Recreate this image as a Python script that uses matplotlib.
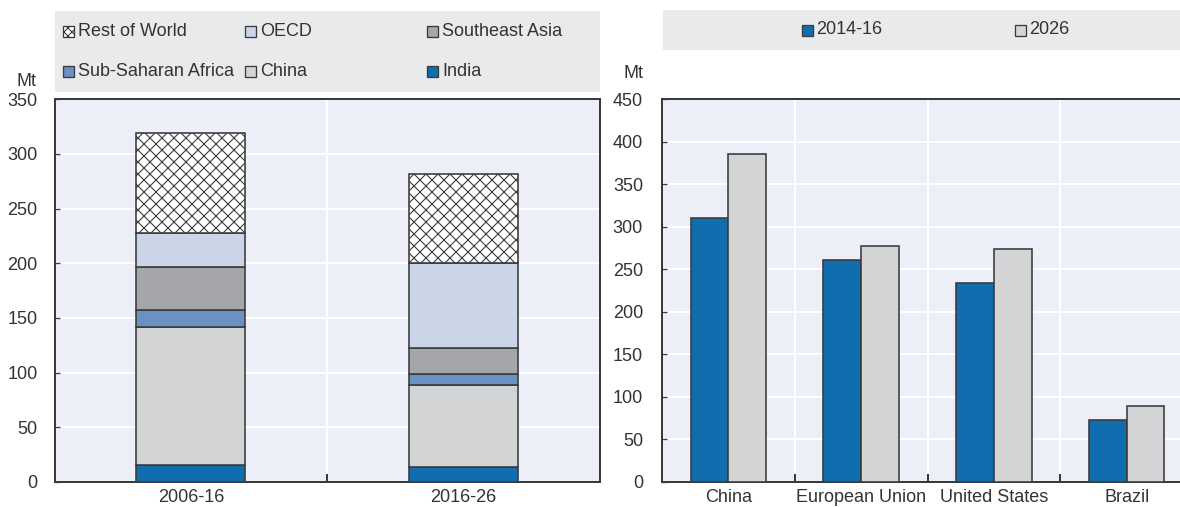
import numpy as np
import matplotlib
matplotlib.use("Agg")
import matplotlib.pyplot as plt
from matplotlib.patches import Rectangle

# higher dpi so that the crosshatch cell gets close to the reference's ~12 px
DPI = 144

def pt(px):
    # pixel size -> points at this dpi
    return px * 72 / DPI

plt.rcParams['font.family'] = ['Liberation Sans Narrow', 'Liberation Sans', 'DejaVu Sans']
plt.rcParams['hatch.color'] = '#7a7a7a'
plt.rcParams['hatch.linewidth'] = pt(1.1)

# left panel: stacked contributions (Mt)
periods = ['2006-16', '2016-26']
regions = ['India', 'China', 'Sub-Saharan Africa', 'Southeast Asia', 'OECD', 'Rest of World']
india = [16, 14]
china = [126, 75]
ssa = [15, 10]
sea = [40, 24]
oecd = [31, 77]
rest = [91, 82]

# right panel: totals by country (Mt)
countries = ['China', 'European Union', 'United States', 'Brazil']
val_1416 = [311, 261, 234, 73]
val_2026 = [386, 277, 274, 89]

W, H = 1180, 507
blue = '#116eae'
lgray = '#d3d4d6'
mblue = '#6a90c4'
dgray = '#a5a6a9'
pblue = '#cad5e8'
bg = '#eceff8'
legbg = '#e9eaec'
edge = '#3a3a3a'
txt = '#333333'
fs = pt(18)

fig = plt.figure(figsize=(W / DPI, H / DPI), dpi=DPI)

def fx(px):
    return px / W

def fy(py):
    return 1 - py / H

# ---------- left panel ----------
ax1 = fig.add_axes([fx(54.5), fy(482), fx(600 - 54.5), (482 - 99.3) / H])
ax1.set_facecolor(bg)
x = np.arange(len(periods))
series = [india, china, ssa, sea, oecd, rest]
colors = [blue, lgray, mblue, dgray, pblue, 'white']
bottom = np.zeros(len(periods))
for vals, c, name in zip(series, colors, regions):
    ax1.bar(x, vals, 0.4, bottom=bottom, color=c, edgecolor=edge, linewidth=pt(1.6),
            hatch='xxxx' if name == 'Rest of World' else None, zorder=3)
    bottom += np.array(vals)
ax1.set_xlim(-0.5, 1.5)
ax1.set_ylim(0, 350)
ax1.set_yticks(range(0, 351, 50))
ax1.set_xticks(x)
ax1.set_xticklabels(periods)
ax1.set_xticks([0.5], minor=True)
ax1.grid(axis='y', color='white', linewidth=pt(2), zorder=0)
ax1.axvline(0.5, color='white', linewidth=pt(2), zorder=0)

# ---------- right panel ----------
ax2 = fig.add_axes([fx(662), fy(482), fx(1193 - 662), (482 - 99.3) / H])
ax2.set_facecolor(bg)
xc = np.arange(len(countries))
bw = 0.285
ax2.bar(xc - bw / 2, val_1416, bw, color=blue, edgecolor=edge, linewidth=pt(1.6), zorder=3)
ax2.bar(xc + bw / 2, val_2026, bw, color=lgray, edgecolor=edge, linewidth=pt(1.6), zorder=3)
ax2.set_xlim(-0.5, 3.5)
ax2.set_ylim(0, 450)
ax2.set_yticks(range(0, 451, 50))
ax2.set_xticks(xc)
ax2.set_xticklabels(countries)
ax2.set_xticks([0.5, 1.5, 2.5], minor=True)
ax2.grid(axis='y', color='white', linewidth=pt(2), zorder=0)
for b in [0.5, 1.5, 2.5]:
    ax2.axvline(b, color='white', linewidth=pt(2), zorder=0)

for ax, ypad in ((ax1, 17), (ax2, 19)):
    for s in ax.spines.values():
        s.set_color(edge)
        s.set_linewidth(pt(2))
    ax.tick_params(axis='y', direction='in', length=pt(5), width=pt(1.3), color=edge,
                   labelsize=fs, labelcolor=txt, pad=pt(ypad))
    ax.tick_params(axis='x', which='major', length=0, labelsize=fs, labelcolor=txt, pad=pt(7))
    ax.tick_params(axis='x', which='minor', direction='in', length=pt(8), width=pt(2), color=edge)
    ax.set_axisbelow(True)

fig.text(fx(37), fy(81), 'Mt', ha='right', va='center', fontsize=fs, color=txt)
fig.text(fx(644), fy(73), 'Mt', ha='right', va='center', fontsize=fs, color=txt)

# ---------- legends ----------
fig.patches.append(Rectangle((fx(55), fy(92)), fx(600 - 55), (92 - 11) / H,
                             transform=fig.transFigure, facecolor=legbg, edgecolor='none', zorder=0))
fig.patches.append(Rectangle((fx(663), fy(50)), fx(1180 - 663), (50 - 10) / H,
                             transform=fig.transFigure, facecolor=legbg, edgecolor='none', zorder=0))

leg_order = ['Rest of World', 'OECD', 'Southeast Asia', 'Sub-Saharan Africa', 'China', 'India']
col_x = [68, 250, 432]
row_y = [31, 71]
sq = 11
for i, name in enumerate(leg_order):
    cx = col_x[i % 3]
    cy = row_y[i // 3]
    c = colors[regions.index(name)]
    fig.patches.append(Rectangle((fx(cx - sq / 2), fy(cy + sq / 2)), fx(sq), sq / H,
                                 transform=fig.transFigure, facecolor=c, edgecolor=edge,
                                 linewidth=pt(1.3), hatch='xxxxxx' if name == 'Rest of World' else None))
    fig.text(fx(cx + 10), fy(cy), name, ha='left', va='center', fontsize=fs, color=txt)

for cx, c, name in [(807, blue, '2014-16'), (1020, lgray, '2026')]:
    fig.patches.append(Rectangle((fx(cx - sq / 2), fy(30 + sq / 2)), fx(sq), sq / H,
                                 transform=fig.transFigure, facecolor=c, edgecolor=edge,
                                 linewidth=pt(1.3)))
    fig.text(fx(cx + 9), fy(30), name, ha='left', va='center', fontsize=fs, color=txt)

fig.savefig('out.png', dpi=DPI)
